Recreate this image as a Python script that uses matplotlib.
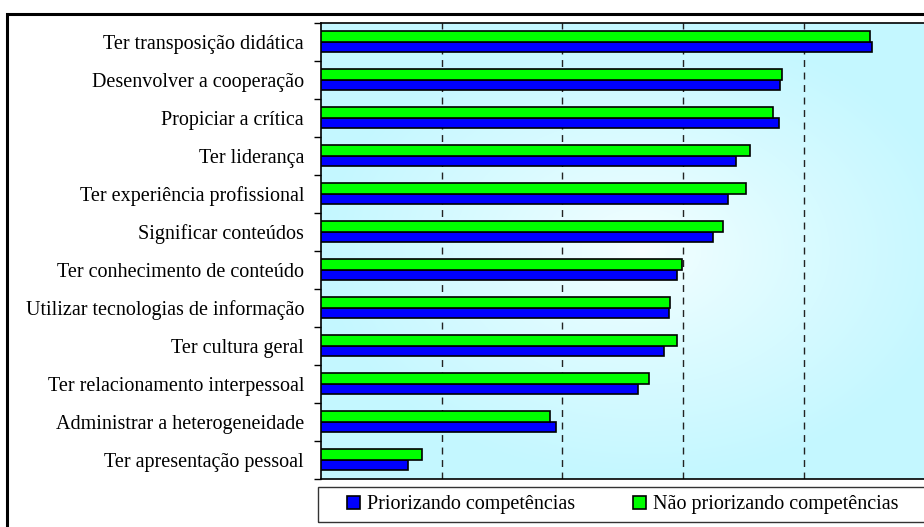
import numpy as np
import matplotlib.pyplot as plt
from matplotlib.patches import Rectangle

categorias = ['Ter transposição didática', 'Desenvolver a cooperação',
              'Propiciar a crítica', 'Ter liderança',
              'Ter experiência profissional', 'Significar conteúdos',
              'Ter conhecimento de conteúdo', 'Utilizar tecnologias de informação',
              'Ter cultura geral', 'Ter relacionamento interpessoal',
              'Administrar a heterogeneidade', 'Ter apresentação pessoal']
priorizando = [4.56, 3.80, 3.79, 3.44, 3.37, 3.25, 2.95, 2.88, 2.84, 2.63, 1.95, 0.72]
nao_priorizando = [4.55, 3.82, 3.74, 3.55, 3.52, 3.33, 2.99, 2.89, 2.95, 2.72, 1.90, 0.84]

plt.rcParams['font.family'] = ['Liberation Serif', 'DejaVu Serif']

W, H = 924, 527
fig = plt.figure(figsize=(W/100, H/100), dpi=100)

# área do gráfico (passa um pouco da borda direita da figura)
x0, x1, y0, y1 = 320.7, 961.0, 22.7, 478.7
ax = fig.add_axes([x0/W, 1 - y1/H, (x1 - x0)/W, (y1 - y0)/H])
ax.set_facecolor('none')

xmax = 5.3
n = len(categorias)
ax.set_xlim(0, xmax)
ax.set_ylim(n - 0.5, -0.5)

# fundo em degradê do centro (branco) para as bordas (ciano)
gx, gy = np.meshgrid(np.linspace(-1, 1, 500), np.linspace(-1, 1, 400))
d = np.clip(np.sqrt(gx**2 + gy**2) / 1.0, 0, 1) ** 0.8
c_in = np.array([0.97, 1.0, 1.0])
c_out = np.array([0.77, 0.97, 1.0])
grad = c_in[None, None, :] * (1 - d[..., None]) + c_out[None, None, :] * d[..., None]
ax.imshow(grad, extent=[0, xmax, n - 0.5, -0.5], aspect='auto', zorder=0)

y = np.arange(n)
h = 0.28
ax.barh(y + h/2, priorizando, height=h, color='#0000FF', edgecolor='black',
        lw=1.2, label='Priorizando competências', zorder=3)
ax.barh(y - h/2, nao_priorizando, height=h, color='#00FF00', edgecolor='black',
        lw=1.2, label='Não priorizando competências', zorder=3)

ax.set_xticks([1, 2, 3, 4, 5])
ax.set_xticklabels([])
ax.tick_params(axis='x', length=0)
ax.xaxis.grid(True, ls=(0, (5, 4)), color='#222222', lw=1)
ax.set_axisbelow(True)

ax.set_yticks(y)
ax.set_yticklabels(categorias, fontsize=14.5)
ax.set_yticks(np.arange(-0.5, n, 1), minor=True)
ax.tick_params(axis='y', which='major', length=0, pad=12)
ax.tick_params(axis='y', which='minor', length=5, width=1, direction='out')

for s in ['left', 'top', 'bottom']:
    ax.spines[s].set_linewidth(1.2)
    ax.spines[s].set_color('black')
ax.spines['right'].set_visible(False)

# moldura externa
fig.add_artist(Rectangle((7/W, -0.5), 2, 1 - 14/H + 0.5, transform=fig.transFigure,
                         fill=False, lw=2.2, ec='black', clip_on=False))

# caixa da legenda
fig.add_artist(Rectangle((318/W, 1 - 522/H), 2, (522 - 487)/H, transform=fig.transFigure,
                         fill=False, lw=1, ec='#333333', clip_on=False))
handles, labels = ax.get_legend_handles_labels()
fig.legend(handles, labels, loc='center left', bbox_to_anchor=(347/W, 1 - 505/H),
           ncol=2, frameon=False, handlelength=0.63, handleheight=0.63,
           handletextpad=0.35, columnspacing=2.9, borderpad=0, borderaxespad=0,
           fontsize=14.5)

fig.savefig('out.png', dpi=100)
